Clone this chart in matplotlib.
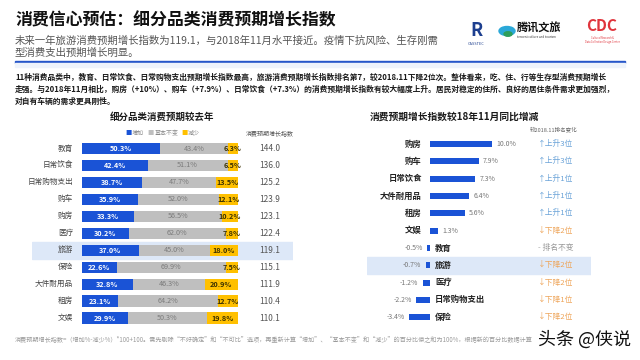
import matplotlib.pyplot as plt
from matplotlib.patches import Circle, Rectangle

plt.rcParams["font.family"] = ["Noto Sans CJK SC", "DejaVu Sans"]

# left chart: share of respondents expecting more / same / less spending
categories = ["教育", "日常饮食", "日常购物支出", "购车", "购房", "医疗",
              "旅游", "保险", "大件耐用品", "租房", "文娱"]
increase = [50.3, 42.4, 38.7, 35.9, 33.3, 30.2, 37.0, 22.6, 32.8, 23.1, 29.9]
unchanged = [43.4, 51.1, 47.7, 52.0, 56.5, 62.0, 45.0, 69.9, 46.3, 64.2, 50.3]
decrease = [6.3, 6.5, 13.5, 12.1, 10.2, 7.8, 18.0, 7.5, 20.9, 12.7, 19.8]
index_values = ["144.0", "136.0", "125.2", "123.9", "123.1", "122.4",
                "119.1", "115.1", "111.9", "110.4", "110.1"]

# right chart: change vs Nov 2018
yoy_categories = ["购房", "购车", "日常饮食", "大件耐用品", "租房", "文娱",
                  "教育", "旅游", "医疗", "日常购物支出", "保险"]
yoy_change = [10.0, 7.9, 7.3, 6.4, 5.6, 1.3, -0.5, -0.7, -1.2, -2.2, -3.4]
rank_change = ["↑上升3位", "↑上升3位", "↑上升1位", "↑上升1位", "↑上升1位",
               "↓下降2位", "- 排名不变", "↓下降2位", "↓下降2位", "↓下降1位", "↓下降2位"]

BLUE = "#1a53d6"
GRAY = "#bfbfbf"
YELLOW = "#ffc000"
BAND = "#dde8f8"
W, H = 640, 360


def ftext(x, y, s, **kw):
    # place text using pixel coordinates measured from the top-left corner
    return fig.text(x / W, 1 - y / H, s, **kw)


fig = plt.figure(figsize=(6.4, 3.6), dpi=100)
fig.patch.set_facecolor("white")

# header
ftext(15, 20, "消费信心预估：细分品类消费预期增长指数", fontsize=12.2,
      fontweight="bold", color="#111111", va="center")
ftext(15, 41, "未来一年旅游消费预期增长指数为119.1，与2018年11月水平接近。疫情下抗风险、生存刚需",
      fontsize=7.5, color="#555555", va="center")
ftext(15, 53, "型消费支出预期增长明显。", fontsize=7.5, color="#555555", va="center")
fig.add_artist(Rectangle((15 / W, 1 - 63 / H), 610 / W, 2 / H,
                         transform=fig.transFigure, color="#2656c9"))
fig.add_artist(Rectangle((15 / W, 1 - 67 / H), 610 / W, 4 / H,
                         transform=fig.transFigure, color="#eef3fb"))

# logos (text approximations)
ftext(476, 30, "R", fontsize=13, fontweight="bold", fontstyle="italic",
      color="#1d3f8f", ha="center", va="center")
ftext(476, 44, "CASSTEC", fontsize=2.8, color="#1d3f8f", ha="center", va="center")
fig.add_artist(Circle((507 / W, 1 - 31 / H), 8 / W, transform=fig.transFigure,
                      color="#2aa8d8"))
fig.add_artist(Circle((508 / W, 1 - 34 / H), 4 / W, transform=fig.transFigure,
                      color="#2e9e5b"))
ftext(517, 28, "腾讯文旅", fontsize=8, fontweight="bold", color="#111111", va="center")
ftext(517, 37, "tencent culture and tourism", fontsize=2.2, color="#333333", va="center")
ftext(602, 26, "CDC", fontsize=11, fontweight="bold", color="#e0343c",
      ha="center", va="center")
ftext(602, 40, "Cultural Research &\nData Collection Design Center", fontsize=1.8,
      color="#e0343c", ha="center", va="center", linespacing=1.1)

# summary paragraph
para = [
    "11种消费品类中，教育、日常饮食、日常购物支出预期增长指数最高，旅游消费预期增长指数排名第7，较2018.11下降2位次。整体看来，吃、住、行等生存型消费预期增长",
    "走强。与2018年11月相比，购房（+10%）、购车（+7.9%）、日常饮食（+7.3%）的消费预期增长指数有较大幅度上升。居民对稳定的住所、良好的居住条件需求更加强烈，",
    "对自有车辆的需求更具刚性。",
]
for i, line in enumerate(para):
    ftext(15, 77 + i * 12, line, fontsize=5.6, fontweight="bold",
          color="#1a1a1a", va="center")

# ---------------- left chart ----------------
px_pct = (237.7 - 81.5) / 100
lx0, lx1 = 32, 293
ly_top, ly_bot = 148.5 - 8.475, 318 + 8.475
axl = fig.add_axes([lx0 / W, 1 - ly_bot / H, (lx1 - lx0) / W, (ly_bot - ly_top) / H])
axl.set_xlim((lx0 - 81.5) / px_pct, (lx1 - 81.5) / px_pct)
axl.set_ylim(len(categories) - 0.5, -0.5)
axl.axis("off")
axl.axhspan(5.5, 6.5, color=BAND, zorder=0)

ypos = range(len(categories))
left2 = [a + b for a, b in zip(increase, unchanged)]
axl.barh(ypos, increase, height=0.66, color=BLUE, zorder=2)
axl.barh(ypos, unchanged, left=increase, height=0.66, color=GRAY, zorder=2)
axl.barh(ypos, decrease, left=left2, height=0.66, color=YELLOW, zorder=2)
for i, cat in enumerate(categories):
    axl.text(-5.3, i, cat, ha="right", va="center", fontsize=5.5, color="#444444")
    axl.text(increase[i] / 2, i, f"{increase[i]:.1f}%", ha="center", va="center",
             fontsize=5.2, fontweight="bold", color="white", zorder=3)
    axl.text(increase[i] + unchanged[i] / 2, i, f"{unchanged[i]:.1f}%", ha="center",
             va="center", fontsize=5.2, color="#7a7a7a", zorder=3)
    axl.text(left2[i] + decrease[i] / 2, i, f"{decrease[i]:.1f}%", ha="center",
             va="center", fontsize=5.2, fontweight="bold", color="#3a3000", zorder=3)
    axl.text((270 - 81.5) / px_pct, i, index_values[i], ha="center", va="center",
             fontsize=6, color="#555555")

ftext(162, 117, "细分品类消费预期较去年", fontsize=6.8, fontweight="bold",
      color="#1a1a1a", ha="center", va="center")
legend = [(128, BLUE, "增加"), (151, GRAY, "基本不变"), (184, YELLOW, "减少")]
for x, c, lab in legend:
    ftext(x, 133, "■", fontsize=4.5, color=c, ha="center", va="center")
    ftext(x + 4, 133, lab, fontsize=4.3, color="#888888", va="center")
ftext(270, 133, "消费预期增长指数", fontsize=4.3, color="#555555",
      ha="center", va="center")

# ---------------- right chart ----------------
px_r = (491.7 - 430) / 10.0
rx0, rx1 = 367, 591
ry_top, ry_bot = 144 - 8.67, 317.3 + 8.67
axr = fig.add_axes([rx0 / W, 1 - ry_bot / H, (rx1 - rx0) / W, (ry_bot - ry_top) / H])
axr.set_xlim((rx0 - 430) / px_r, (rx1 - 430) / px_r)
axr.set_ylim(len(yoy_categories) - 0.5, -0.5)
axr.axis("off")
axr.axhspan(6.5, 7.5, color=BAND, zorder=0)
axr.barh(range(len(yoy_categories)), yoy_change, height=0.34, color=BLUE, zorder=2)
for i, (cat, v, rk) in enumerate(zip(yoy_categories, yoy_change, rank_change)):
    if v >= 0:
        axr.text(-1.3, i, cat, ha="right", va="center", fontsize=6,
                 fontweight="bold", color="#222222")
        axr.text(v + 0.7, i, f"{v:.1f}%", ha="left", va="center",
                 fontsize=5, color="#777777")
    else:
        axr.text(0.8, i, cat, ha="left", va="center", fontsize=6,
                 fontweight="bold", color="#222222")
        axr.text(v - 0.7, i, f"{v:.1f}%", ha="right", va="center",
                 fontsize=5, color="#777777")
    if rk.startswith("↑"):
        c = "#6aa3d8"
    elif rk.startswith("↓"):
        c = "#eea55a"
    else:
        c = "#999999"
    axr.text((538 - 430) / px_r, i, rk, ha="left", va="center", fontsize=5.6, color=c)

ftext(370, 117, "消费预期增长指数较18年11月同比增减", fontsize=7,
      fontweight="bold", color="#1a1a1a", va="center")
ftext(530, 129, "较2018.11排名变化", fontsize=4, color="#666666", va="center")

# footnote and watermark
ftext(15, 339, "消费预期增长指数=（增加%-减少%）*100+100。需先剔除“不好确定”和“不可比”选项，"
      "再重新计算“增加”、“基本不变”和“减少”的百分比使之和为100%，根据新的百分比数据计算",
      fontsize=4.4, color="#9a9a9a", va="center")
ftext(538, 340, "头条 @侠说", fontsize=13, color="#111111", va="center")

fig.savefig("out.png", dpi=100, facecolor="white")
